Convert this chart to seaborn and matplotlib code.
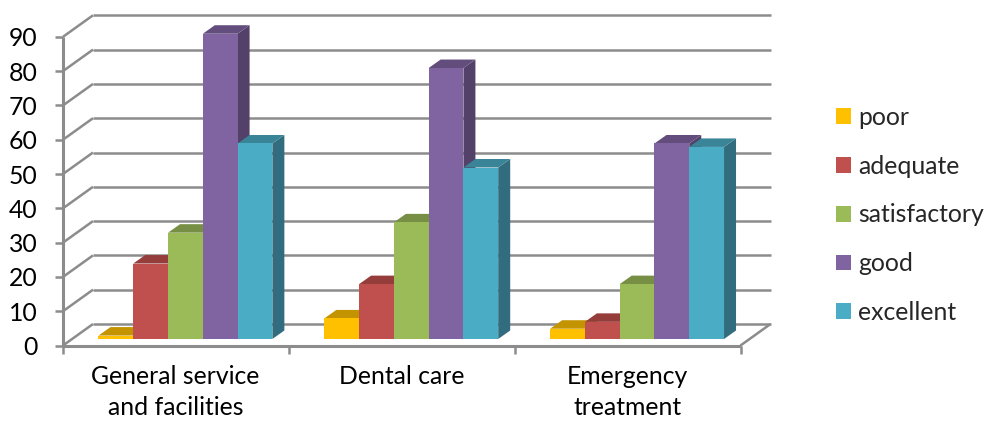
import matplotlib
matplotlib.use("Agg")
import matplotlib.pyplot as plt
from matplotlib.patches import Polygon
from matplotlib.transforms import IdentityTransform, ScaledTranslation
import pandas as pd
import seaborn as sns

CATEGORIES = ["General service\nand facilities", "Dental care", "Emergency\ntreatment"]
RATINGS = ["poor", "adequate", "satisfactory", "good", "excellent"]
POOR = [1, 6, 3]
ADEQUATE = [22, 16, 5]
SATISFACTORY = [31, 34, 16]
GOOD = [89, 79, 57]
EXCELLENT = [57, 50, 56]
Y_TICKS = list(range(0, 100, 10))

FRONT_COLORS = ["#FFC000", "#C0504D", "#9BBB59", "#8064A2", "#4BACC6"]
TOP_COLORS = ["#C49400", "#943D3B", "#778F45", "#624D7D", "#3A8498"]
SIDE_COLORS = ["#A67D00", "#7D3432", "#65793A", "#534169", "#316D7E"]
GRID = "#8C8C8C"

W, H = 985, 421
# pixel shift of the bar plane to the front of the floor and to the back wall
FRONT = (-9.5, -6.5)
BACK = (20.5, 15)
DEPTH = (12, 8.5)

df = pd.DataFrame({
    "service": CATEGORIES * 5,
    "rating": [r for r in RATINGS for _ in CATEGORIES],
    "value": POOR + ADEQUATE + SATISFACTORY + GOOD + EXCELLENT,
})

sns.set_style("white")
plt.rcParams["font.family"] = ["Lato", "DejaVu Sans"]
fig = plt.figure(figsize=(W / 100, H / 100), dpi=100)
ax = fig.add_axes([72.5 / W, (H - 339) / H, 677.5 / W, 308.7 / H])
sns.barplot(data=df, x="service", y="value", hue="rating", hue_order=RATINGS,
            palette=FRONT_COLORS, saturation=1, width=0.77, linewidth=0, ax=ax)
ax.set_xlim(-0.5, 2.5)
ax.set_ylim(0, 90)
ax.set_xlabel("")
ax.set_ylabel("")
ax.set_yticks(Y_TICKS)
sns.despine(ax=ax, left=True, bottom=True)
ax.tick_params(axis="both", length=0, labelsize=17.8, labelcolor="#000000")
ax.tick_params(axis="y", pad=25)
ax.tick_params(axis="x", pad=19)

# tick labels sit on the front edge of the floor, not on the bar plane
for lab in ax.get_yticklabels():
    lab.set_transform(lab.get_transform() + ScaledTranslation(0, FRONT[1] / 100, fig.dpi_scale_trans))
for lab in ax.get_xticklabels():
    lab.set_transform(lab.get_transform() + ScaledTranslation(-10 / 100, 0, fig.dpi_scale_trans))
    lab.set_linespacing(1.42)


def px(x, y, shift=(0, 0)):
    p = ax.transData.transform((x, y))
    return p[0] + shift[0], p[1] + shift[1]


def wire(p, q, lw=1.8, z=1):
    ax.plot([p[0], q[0]], [p[1], q[1]], color=GRID, lw=lw, transform=IdentityTransform(),
            clip_on=False, zorder=z, solid_capstyle="butt", scalex=False, scaley=False)


# wall grid and the slanted side lines
for v in Y_TICKS:
    wire(px(-0.5, v, BACK), px(2.5, v, BACK))
    wire(px(-0.5, v, FRONT), px(-0.5, v, BACK))
    wire(px(-0.5, v, FRONT), px(-0.5, v, (FRONT[0] - 8, FRONT[1])))
wire(px(-0.5, 0, FRONT), px(-0.5, 90, FRONT), lw=2.2)
wire(px(-0.5, 0, FRONT), px(2.5, 0, FRONT), lw=2.2, z=30)
wire(px(2.5, 0, FRONT), px(2.5, 0, BACK))
for i in range(4):
    x = i - 0.5
    wire(px(x, 0, FRONT), px(x, 0, (FRONT[0], FRONT[1] - 8)), z=30)

# fake 3D: side and top faces taken from the bars seaborn drew
bars = [b for b in ax.patches if b.get_height() > 0]
bars = sorted(bars, key=lambda b: b.get_x())
for rank, bar in enumerate(bars):
    idx = FRONT_COLORS.index(matplotlib.colors.to_hex(bar.get_facecolor()).upper())
    x0, x1 = bar.get_x(), bar.get_x() + bar.get_width()
    h = bar.get_height()
    z = 3 + rank * 0.01
    bl, br = px(x0, h), px(x1, h)
    base = px(x1, 0)
    dx, dy = DEPTH
    top = [bl, br, (br[0] + dx, br[1] + dy), (bl[0] + dx, bl[1] + dy)]
    side = [base, br, (br[0] + dx, br[1] + dy), (base[0] + dx, base[1] + dy)]
    ax.add_patch(Polygon(side, closed=True, fc=SIDE_COLORS[idx], ec="none",
                         transform=IdentityTransform(), clip_on=False, zorder=z))
    ax.add_patch(Polygon(top, closed=True, fc=TOP_COLORS[idx], ec="none",
                         transform=IdentityTransform(), clip_on=False, zorder=z))
    bar.set_zorder(z + 0.001)

handles, labels = ax.get_legend_handles_labels()
leg = ax.legend(handles, labels, loc="upper left", frameon=False, fontsize=17.8,
                bbox_to_anchor=(836 / W, (H - 106) / H), bbox_transform=fig.transFigure,
                handlelength=0.6, handleheight=0.6, handletextpad=0.3,
                labelspacing=1.04, borderpad=0, borderaxespad=0)

fig.savefig("out.png", dpi=100)
